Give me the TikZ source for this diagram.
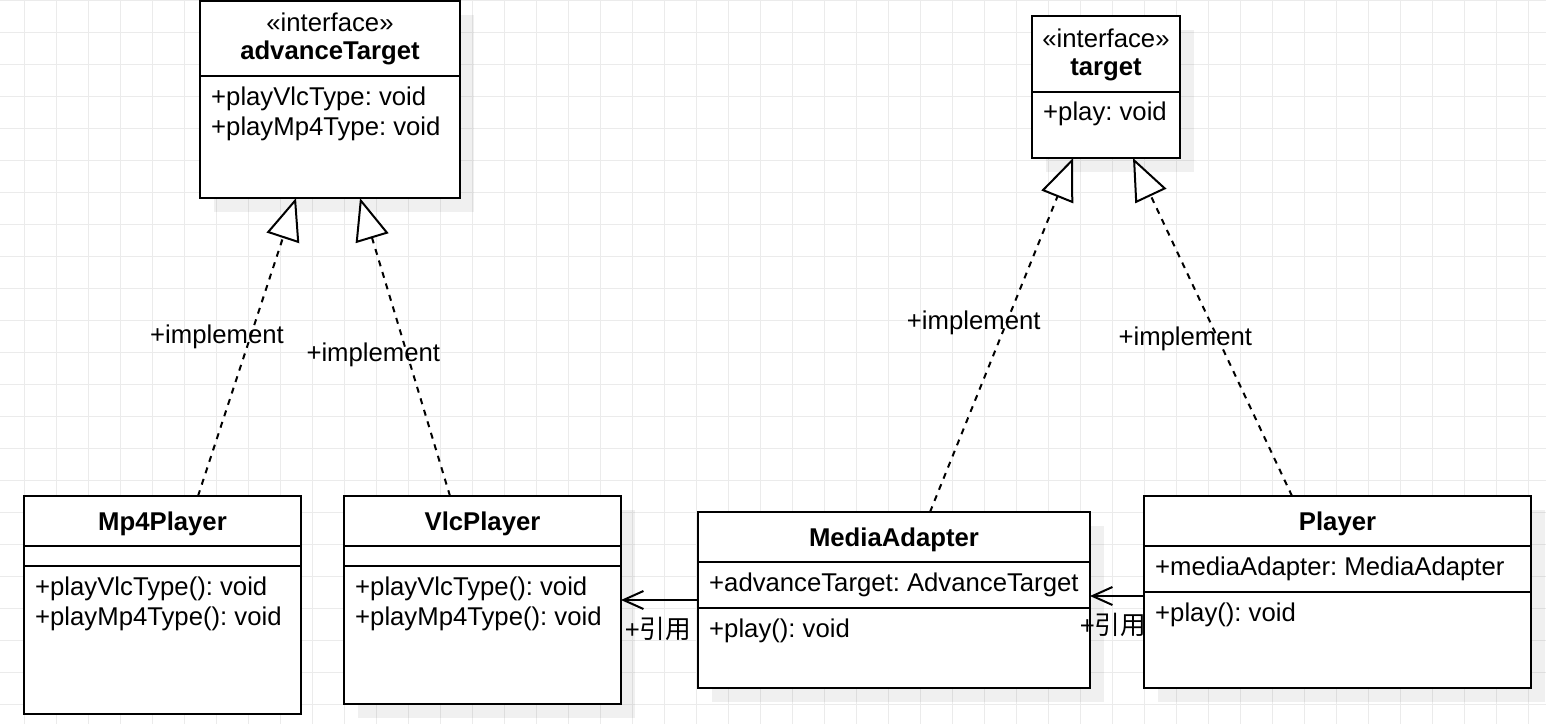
\documentclass[tikz,border=0pt]{standalone}
\usepackage{fontspec}
\setmainfont{Liberation Sans}
\newfontfamily\cjk{Noto Sans CJK SC}
\usetikzlibrary{arrows.meta,shadows}
\frenchspacing

\begin{document}
\begin{tikzpicture}[x=1pt,y=-1pt,
  font=\fontsize{25.7}{30}\selectfont,
  gridline/.style={draw=black!8,line width=1pt},
  classbox/.style={draw,line width=2pt,fill=white,anchor=north west,outer sep=0pt,inner sep=0pt},
  shade/.style={drop shadow={shadow xshift=14pt,shadow yshift=-14pt,fill=black,opacity=0.06}},
  txt/.style={inner sep=0pt,text height=19pt,text depth=5.5pt},
  member/.style={txt,anchor=west},
  title/.style={txt,font=\fontsize{25.7}{30}\selectfont\bfseries},
  divider/.style={line width=2pt},
  realize/.style={line width=2pt,dash pattern=on 6pt off 6pt,-{Triangle[length=42pt,width=34pt,fill=white]}},
  uses/.style={line width=2pt,-{Straight Barb[length=20pt,width=18pt]}}]
\useasboundingbox[fill=white] (0,0) rectangle (1546,724);
% background grid
\foreach \gx in {24,56,...,1546} \draw[gridline] (\gx,0)--(\gx,724);
\foreach \gy in {0,32,...,724} \draw[gridline] (0,\gy)--(1546,\gy);

% interfaces
\node[classbox,shade,minimum width=260,minimum height=197] (adv) at (200,1) {};
\draw[divider] (adv.west |- 0,76)--(adv.east |- 0,76);
\node[txt] (advstereo) at (330,24.5) {«interface»};
\node[title] (advname) at (330,52.5) {advanceTarget};
\node[member] (advattr1) at (211,98.5) {+playVlcType: void};
\node[member] (advattr2) at (211,128.5) {+playMp4Type: void};

\node[classbox,shade,minimum width=148,minimum height=142] (tgt) at (1032,16) {};
\draw[divider] (tgt.west |- 0,92)--(tgt.east |- 0,92);
\node[txt] (tgtstereo) at (1106,40.5) {«interface»};
\node[title] (tgtname) at (1106,68.5) {target};
\node[member] (tgtattr) at (1043,114) {+play: void};

% classes
\node[classbox,minimum width=277,minimum height=218] (mp4) at (24,496) {};
\draw[divider] (mp4.west |- 0,546)--(mp4.east |- 0,546);
\draw[divider] (mp4.west |- 0,566)--(mp4.east |- 0,566);
\node[title] (mp4name) at (162.5,523.5) {Mp4Player};
\node[member] (mp4op1) at (35,588.5) {+playVlcType(): void};
\node[member] (mp4op2) at (35,618.5) {+playMp4Type(): void};

\node[classbox,shade,minimum width=277,minimum height=208] (vlc) at (344,496) {};
\draw[divider] (vlc.west |- 0,546)--(vlc.east |- 0,546);
\draw[divider] (vlc.west |- 0,566)--(vlc.east |- 0,566);
\node[title] (vlcname) at (482.5,523.5) {VlcPlayer};
\node[member] (vlcop1) at (355,588.5) {+playVlcType(): void};
\node[member] (vlcop2) at (355,618.5) {+playMp4Type(): void};

\node[classbox,shade,minimum width=392,minimum height=176] (media) at (698,512) {};
\draw[divider] (media.west |- 0,562)--(media.east |- 0,562);
\draw[divider] (media.west |- 0,608)--(media.east |- 0,608);
\node[title] (medianame) at (894,539.5) {MediaAdapter};
\node[member] (mediaattr) at (709,585) {+advanceTarget: AdvanceTarget};
\node[member] (mediaop) at (709,630.5) {+play(): void};

\node[classbox,shade,minimum width=387,minimum height=192] (player) at (1144,496) {};
\draw[divider] (player.west |- 0,546)--(player.east |- 0,546);
\draw[divider] (player.west |- 0,592)--(player.east |- 0,592);
\node[title] (playername) at (1337.5,523.5) {Player};
\node[member] (playerattr) at (1155,569) {+mediaAdapter: MediaAdapter};
\node[member] (playerop) at (1155,614.5) {+play(): void};

% implementations
\draw[realize] ([xshift=35.5pt]mp4.north)--([xshift=-34pt]adv.south);
\draw[realize] ([xshift=-32.5pt]vlc.north)--([xshift=30pt]adv.south);
\draw[realize] ([xshift=36pt]media.north)--([xshift=-33pt]tgt.south);
\draw[realize] ([xshift=-45.5pt]player.north)--([xshift=27pt]tgt.south);
\node[txt] (impl1) at (217,337) {+implement};
\node[txt] (impl2) at (373.3,355) {+implement};
\node[txt] (impl3) at (973.7,322.3) {+implement};
\node[txt] (impl4) at (1185.3,338.5) {+implement};

% references
\draw[uses] (media.west)--(vlc.east);
\draw[uses] ([yshift=-4pt]player.west)--([yshift=4pt]media.east);
\node[txt] (ref1) at (658,631.5) {+{\cjk 引用}};
\node[txt] (ref2) at (1113,628) {+{\cjk 引用}};
\end{tikzpicture}
\end{document}
